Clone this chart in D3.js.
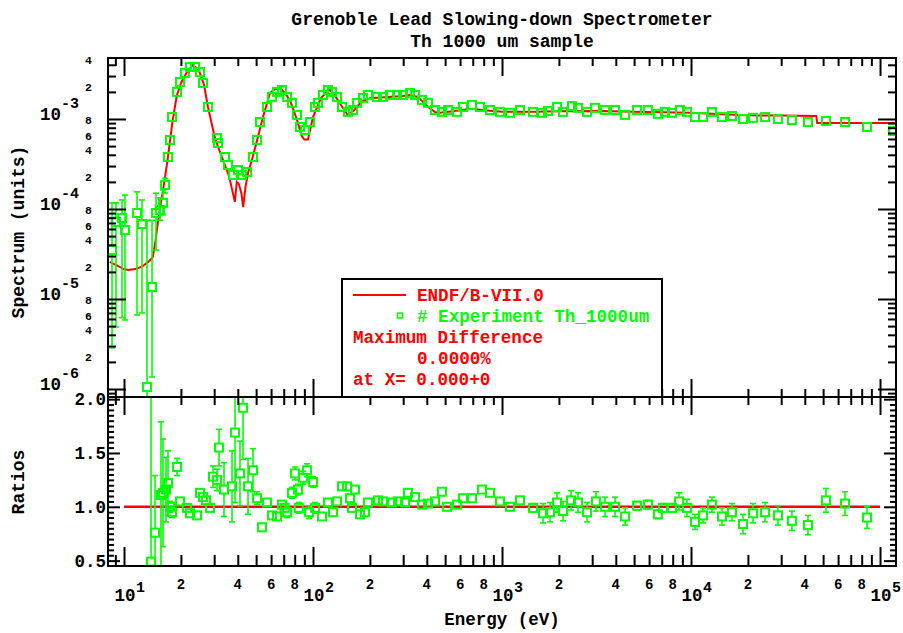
<!DOCTYPE html>
<html><head><meta charset="utf-8">
<script src="https://cdn.jsdelivr.net/npm/d3@7"></script>
<style>
body{margin:0;background:#fff}
svg{display:block}
text{font-family:"Liberation Mono","DejaVu Sans Mono",monospace;font-weight:bold;fill:#000}
</style>
</head><body>
<svg id="c" width="903" height="633"></svg>
<script>
// ---------- DATA ----------
const titleLines = ["Grenoble Lead Slowing-down Spectrometer", "Th 1000 um sample"];
const legendLines = ["ENDF/B-VII.0", "# Experiment Th_1000um", "Maximum Difference", "0.0000%", "at X= 0.000+0"];

// ENDF/B-VII.0 evaluated spectrum (energy eV, spectrum units)
const endfE = [8.4, 9.2, 10.0, 10.5, 11.5, 12.5, 13.5, 14.2, 14.7, 15.1, 15.6, 16.1, 17.0, 18.0, 19.0, 20.0, 21.5, 23.2, 25.0, 26.5,
  27.8, 30.3, 33.4, 36.0, 38.6, 39.5, 40.5, 41.8, 42.7, 44.0, 45.5, 47.5, 50.6, 54.4, 59.2, 63, 66.8, 71, 75.5, 82,
  87, 90, 94, 100, 110, 118, 123, 130, 140, 153, 165, 180, 200, 250, 300, 326, 360, 400, 440, 470,
  520, 600, 700, 800, 1000, 1500, 2000, 3300, 5000, 9900, 19300, 30000, 46000, 46500, 121500];
const endfS = [2.58e-5, 2.35e-5, 2.15e-5, 2.1e-5, 2.15e-5, 2.3e-5, 2.6e-5, 2.93e-5, 4.5e-5, 7e-5, 1.1e-4, 1.63e-4, 3.5e-4, 9e-4, 1.8e-3, 2.5e-3, 3.3e-3, 4.0e-3, 3.4e-3, 2.4e-3,
  1.36e-3, 6.1e-4, 3.5e-4, 2.3e-4, 1.2e-4, 2.0e-4, 1.9e-4, 1.5e-4, 1.05e-4, 1.8e-4, 2.6e-4, 3.5e-4, 5.8e-4, 1.05e-3, 1.95e-3, 2.15e-3, 2.2e-3, 1.95e-3, 1.62e-3, 1.0e-3,
  6.5e-4, 5.9e-4, 5.9e-4, 1.05e-3, 1.7e-3, 2.0e-3, 2.1e-3, 1.85e-3, 1.45e-3, 1.1e-3, 1.25e-3, 1.55e-3, 1.7e-3, 1.75e-3, 1.8e-3, 1.85e-3, 1.75e-3, 1.4e-3, 1.2e-3, 1.17e-3,
  1.2e-3, 1.25e-3, 1.3e-3, 1.25e-3, 1.2e-3, 1.2e-3, 1.22e-3, 1.23e-3, 1.2e-3, 1.17e-3, 1.1e-3, 1.09e-3, 1.08e-3, 9e-4, 9e-4];

// Experiment Th_1000um
const expE = [8.64, 9.07, 9.76, 10.12, 11.72, 12.45, 13.23, 14.07, 14.77, 15.5,
  16.08, 16.48, 17.09, 17.51, 17.95, 19.07, 19.79, 21.02, 22.35, 23.75,
  25.24, 26.18, 27.83, 31.05, 31.43, 34.22, 35.5, 37.73, 40.1, 42.1,
  44.75, 48.14, 50.55, 52.43, 57.1, 60.7, 64.5, 68.5, 72.9, 77.4,
  82.3, 85.3, 90.7, 96.4, 102.5, 106.3, 112.9, 120, 126, 134,
  142.4, 153.2, 162.8, 171, 183.9, 195.4, 218, 234.6, 255.6, 278.3,
  299.5, 326, 346.5, 377.4, 406, 442, 481, 518, 578, 622,
  694, 765, 864, 976, 1102, 1245, 1459, 1628, 1751, 1954,
  2103, 2346, 2524, 2817, 3105, 3509, 3963, 4477, 5176, 5916,
  6683, 7278, 7930, 8743, 9522, 10498, 11570, 12910, 14580, 16480,
  18840, 21280, 24640, 28840, 34200, 41580, 51760, 65280, 85350, 117200];
const expS = [3.5e-5, 7.2e-5, 7.94e-5, 5.85e-5, 9.03e-5, 6.8e-5, 1.05e-6, 1.36e-5, 9.03e-5, 9.75e-5,
  1.17e-4, 1.85e-4, 3.78e-4, 5.85e-4, 1.05e-3, 2.0e-3, 2.58e-3, 3.25e-3, 3.78e-3, 3.78e-3,
  3.33e-3, 2.51e-3, 1.36e-3, 6.15e-4, 5.41e-4, 3.78e-4, 3.08e-4, 2.39e-4, 2.71e-4, 2.39e-4,
  2.58e-4, 3.78e-4, 5.85e-4, 9.26e-4, 1.36e-3, 1.76e-3, 2.0e-3, 2.1e-3, 1.76e-3, 1.51e-3,
  1.11e-3, 8.15e-4, 7.55e-4, 9.26e-4, 1.36e-3, 1.51e-3, 1.85e-3, 2.1e-3, 2.0e-3, 1.76e-3,
  1.36e-3, 1.2e-3, 1.26e-3, 1.51e-3, 1.71e-3, 1.85e-3, 1.76e-3, 1.76e-3, 1.85e-3, 1.85e-3,
  1.85e-3, 1.95e-3, 1.85e-3, 1.63e-3, 1.51e-3, 1.26e-3, 1.2e-3, 1.26e-3, 1.2e-3, 1.36e-3,
  1.43e-3, 1.36e-3, 1.26e-3, 1.2e-3, 1.17e-3, 1.26e-3, 1.2e-3, 1.17e-3, 1.23e-3, 1.36e-3,
  1.2e-3, 1.39e-3, 1.33e-3, 1.2e-3, 1.33e-3, 1.26e-3, 1.26e-3, 1.11e-3, 1.26e-3, 1.26e-3,
  1.14e-3, 1.2e-3, 1.17e-3, 1.26e-3, 1.2e-3, 1.05e-3, 1.05e-3, 1.2e-3, 1.05e-3, 1.08e-3,
  1.0e-3, 1.03e-3, 1.05e-3, 1.0e-3, 9.75e-4, 9.26e-4, 9.5e-4, 9.26e-4, 8.15e-4, 7.36e-4];
// error-bar limits for the first (low-energy) experimental points
const expErrLo = [2.86e-6, 4.89e-6, 6.2e-6, 5.85e-6, 6.64e-6, 7.0e-6, 5e-7, 1.36e-6, 3.5e-5, 7.5e-5, 8.6e-5, 1.5e-4];
const expErrHi = [1.17e-4, 1.17e-4, 1.26e-4, 1.43e-4, 1.55e-4, 1.26e-4, 7.5e-5, 7.5e-5, 1.5e-4, 1.33e-4, 1.63e-4, 2.2e-4];

// Ratios experiment / ENDF
const ratE = [13.9, 14.59, 15.69, 16.08, 16.68, 17.09, 17.51, 17.95, 19.07, 19.79,
  21.54, 22.35, 24.33, 25.24, 26.18, 27.16, 28.51, 29.57, 31.05, 31.81,
  33.81, 37.28, 38.67, 41.08, 42.62, 45.3, 48.14, 50.55, 53.73, 57.1,
  60.7, 64.5, 68.5, 70.7, 72.9, 77.4, 80.3, 83.3, 84.1, 88.5,
  92.96, 95.2, 100, 102.5, 111.6, 120, 127.6, 134, 142.4, 151.4,
  157, 160.8, 166.8, 177.4, 188.4, 195.4, 220.8, 234.6, 261.8, 281.7,
  306.8, 318.1, 346.5, 377.4, 406, 442, 481, 511.7, 578, 622,
  694, 783.6, 864, 976, 1102, 1245, 1459, 1648, 1795, 1954,
  2103, 2317, 2524, 2817, 3141, 3509, 3963, 4477, 5176, 5916,
  6683, 7111, 7930, 8641, 9522, 10498, 11570, 12910, 14580, 16480,
  18840, 21280, 24640, 28840, 34200, 41580, 51760, 65280, 85350];
const ratR = [0.49, 0.76, 1.11, 1.13, 1.16, 1.22, 1.0, 0.95, 1.37, 1.05,
  0.99, 0.94, 0.92, 1.13, 1.09, 1.06, 0.99, 1.28, 1.25, 1.55,
  1.16, 1.19, 1.69, 1.31, 1.92, 1.19, 1.34, 1.08, 0.81, 1.04,
  0.92, 0.91, 1.02, 0.99, 0.95, 1.13, 1.31, 1.16, 0.99, 1.27,
  1.34, 0.95, 1.23, 0.99, 0.91, 1.04, 0.95, 1.05, 1.19, 1.19,
  1.08, 0.99, 1.16, 0.93, 0.95, 1.04, 1.06, 1.05, 1.04, 1.05,
  1.04, 1.13, 1.09, 1.02, 1.03, 1.05, 1.14, 1.0, 1.02, 1.08,
  1.08, 1.16, 1.13, 1.05, 1.0, 1.06, 0.99, 0.94, 0.95, 1.04,
  0.96, 1.06, 1.04, 0.95, 1.05, 1.0, 1.0, 0.91, 1.01, 1.02,
  0.93, 0.99, 0.99, 1.05, 0.99, 0.86, 0.92, 1.02, 0.91, 0.95,
  0.84, 0.94, 0.95, 0.92, 0.87, 0.83, 1.06, 1.03, 0.90];
const ratErr = [1.6, 0.53, 0.68, 0.5, 0.3, 0.3, 0.05, 0.05, 0.08, 0.03,
  0.03, 0.03, 0.03, 0.03, 0.03, 0.03, 0.03, 0.1, 0.1, 0.17,
  0.25, 0.33, 0.65, 0.3, 0.48, 0.26, 0.2, 0.06, 0.03, 0.03,
  0.03, 0.03, 0.03, 0.03, 0.05, 0.05, 0.06, 0.05, 0.05, 0.06,
  0.06, 0.06, 0.05, 0.05, 0.03, 0.03, 0.03, 0.03, 0.03, 0.03,
  0.03, 0.03, 0.03, 0.03, 0.03, 0.03, 0.03, 0.03, 0.03, 0.03,
  0.03, 0.03, 0.03, 0.03, 0.03, 0.03, 0.03, 0.03, 0.03, 0.03,
  0.03, 0.03, 0.03, 0.03, 0.03, 0.03, 0.04, 0.09, 0.09, 0.09,
  0.09, 0.09, 0.09, 0.09, 0.09, 0.09, 0.09, 0.08, 0.04, 0.04,
  0.04, 0.04, 0.04, 0.08, 0.08, 0.07, 0.07, 0.07, 0.08, 0.08,
  0.09, 0.09, 0.09, 0.09, 0.09, 0.09, 0.11, 0.11, 0.10];
const ratLineE = [10, 100000];
const ratLineR = [1.0, 1.0];

// tick labels
const xDecades = [10, 100, 1000, 10000, 100000];
const xDecadeExp = ["1", "2", "3", "4", "5"];
const minorDigits = [2, 4, 6, 8];
const ySDecades = [1e-6, 1e-5, 1e-4, 1e-3];
const ySDecadeExp = ["-6", "-5", "-4", "-3"];
const yRLabels = [0.5, 1.0, 1.5, 2.0];

// ---------- LAYOUT ----------
const L = 108, R = 896, T = 58, M = 397, B = 566;
const RED = "#ff0000", GREEN = "#00ff00";
const svg = d3.select("#c");

const x = d3.scaleLog().domain([8.228, 121500]).range([L, R]);
const yS = d3.scaleLog().domain([8.15e-7, 4.76e-3]).range([M, T]);
const yR = d3.scaleLinear().domain([0.45, 2.02]).range([B, M]);

// tick value sets
const xMinor = [], xMajor = xDecades.slice();
for (let d = 1; d <= 1e5; d *= 10) for (let m = 2; m <= 9; m++) { const v = m * d; if (v > x.domain()[0] && v < x.domain()[1]) xMinor.push(v); }
const ySMinor = [];
for (let d = 1e-7; d <= 1e-3; d *= 10) for (let m = 2; m <= 9; m++) { const v = m * d; if (v > yS.domain()[0] && v < yS.domain()[1]) ySMinor.push(v); }
const yRMinor = d3.range(0.5, 2.01, 0.05).map(v => +v.toFixed(2)).filter(v => Math.abs(v * 2 - Math.round(v * 2)) > 1e-6);

// clip paths
const defs = svg.append("defs");
defs.append("clipPath").attr("id", "cu").append("rect").attr("x", L).attr("y", T).attr("width", R - L).attr("height", M - T);
defs.append("clipPath").attr("id", "cl").append("rect").attr("x", L).attr("y", M).attr("width", R - L).attr("height", B - M);

// ---------- UPPER PANEL DATA ----------
const up = svg.append("g").attr("clip-path", "url(#cu)");
up.append("path").datum(endfE.map((e, i) => [e, endfS[i]]))
  .attr("fill", "none").attr("stroke", RED).attr("stroke-width", 2)
  .attr("d", d3.line().x(d => x(d[0])).y(d => yS(d[1])));

const hs = 4; // marker half size
function errBar(g, cx, cy, yTop, yBot) {
  if (yTop < cy - hs) {
    g.append("line").attr("x1", cx).attr("x2", cx).attr("y1", yTop).attr("y2", cy - hs);
    g.append("line").attr("x1", cx - 3).attr("x2", cx + 3).attr("y1", yTop).attr("y2", yTop);
  }
  if (yBot > cy + hs) {
    g.append("line").attr("x1", cx).attr("x2", cx).attr("y1", cy + hs).attr("y2", yBot);
    g.append("line").attr("x1", cx - 3).attr("x2", cx + 3).attr("y1", yBot).attr("y2", yBot);
  }
}
const upErr = up.append("g").attr("stroke", GREEN).attr("stroke-width", 1.6);
expE.forEach((e, i) => {
  if (expErrLo[i] == null) return;
  errBar(upErr, x(e), yS(expS[i]), yS(expErrHi[i]), yS(expErrLo[i]));
});
up.append("g").selectAll("rect").data(expE.map((e, i) => [e, expS[i]])).join("rect")
  .attr("x", d => x(d[0]) - hs).attr("y", d => yS(d[1]) - hs).attr("width", 2 * hs).attr("height", 2 * hs)
  .attr("fill", "none").attr("stroke", GREEN).attr("stroke-width", 2);

// ---------- LOWER PANEL DATA ----------
const lo = svg.append("g").attr("clip-path", "url(#cl)");
lo.append("path").datum(ratLineE.map((e, i) => [e, ratLineR[i]]))
  .attr("fill", "none").attr("stroke", RED).attr("stroke-width", 2.5)
  .attr("d", d3.line().x(d => x(d[0])).y(d => yR(d[1])));
const loErr = lo.append("g").attr("stroke", GREEN).attr("stroke-width", 1.6);
ratE.forEach((e, i) => {
  errBar(loErr, x(e), yR(ratR[i]), yR(ratR[i] + ratErr[i]), yR(ratR[i] - ratErr[i]));
});
lo.append("g").selectAll("rect").data(ratE.map((e, i) => [e, ratR[i]])).join("rect")
  .attr("x", d => x(d[0]) - hs).attr("y", d => yR(d[1]) - hs).attr("width", 2 * hs).attr("height", 2 * hs)
  .attr("fill", "none").attr("stroke", GREEN).attr("stroke-width", 2);

// ---------- AXES / TICKS ----------
function tickAxis(axis, tx, ty, vals, size) {
  const g = svg.append("g").attr("transform", `translate(${tx},${ty})`)
    .call(axis.tickValues(vals).tickSize(size).tickFormat(""));
  g.select(".domain").remove();
  g.selectAll(".tick line").attr("stroke", "#000").attr("stroke-width", 2);
}
// upper panel
tickAxis(d3.axisTop(x), 0, T, xMinor, -8);
tickAxis(d3.axisTop(x), 0, T, xMajor, -18);
tickAxis(d3.axisBottom(x), 0, M, xMinor, -8);
tickAxis(d3.axisBottom(x), 0, M, xMajor, -18);
tickAxis(d3.axisLeft(yS), L, 0, ySMinor, -8);
tickAxis(d3.axisLeft(yS), L, 0, ySDecades, -18);
tickAxis(d3.axisRight(yS), R, 0, ySMinor, -8);
tickAxis(d3.axisRight(yS), R, 0, ySDecades, -18);
// lower panel
tickAxis(d3.axisTop(x), 0, M, xMinor, -8);
tickAxis(d3.axisTop(x), 0, M, xMajor, -18);
tickAxis(d3.axisBottom(x), 0, B, xMinor, -11);
tickAxis(d3.axisBottom(x), 0, B, xMajor, -19);
tickAxis(d3.axisLeft(yR), L, 0, yRMinor, -6);
tickAxis(d3.axisLeft(yR), L, 0, yRLabels, -12);
tickAxis(d3.axisRight(yR), R, 0, yRMinor, -6);
tickAxis(d3.axisRight(yR), R, 0, yRLabels, -12);

// frames
svg.append("rect").attr("x", L).attr("y", T).attr("width", R - L).attr("height", M - T)
  .attr("fill", "none").attr("stroke", "#000").attr("stroke-width", 2);
svg.append("rect").attr("x", L).attr("y", M).attr("width", R - L).attr("height", B - M)
  .attr("fill", "none").attr("stroke", "#000").attr("stroke-width", 2);

// ---------- TICK LABELS ----------
// x decades
xDecades.forEach((v, i) => {
  svg.append("text").attr("x", x(v) + 1).attr("y", 601).attr("text-anchor", "middle")
    .style("font-size", "17.5px").text("10");
  svg.append("text").attr("x", x(v) + 12).attr("y", 592).attr("text-anchor", "start")
    .style("font-size", "15px").text(xDecadeExp[i]);
});
xDecades.slice(0, 4).forEach(d => minorDigits.forEach(m => {
  svg.append("text").attr("x", x(m * d)).attr("y", 589).attr("text-anchor", "middle")
    .style("font-size", "14px").text(m);
}));
// upper y
ySDecades.forEach((v, i) => {
  svg.append("text").attr("x", 61).attr("y", yS(v) + 1).attr("text-anchor", "end")
    .style("font-size", "17.5px").text("10");
  svg.append("text").attr("x", 61).attr("y", yS(v) - 11).attr("text-anchor", "start")
    .style("font-size", "15px").text(ySDecadeExp[i]);
});
const minorShift = {2: -4, 4: -4, 6: -2.5, 8: -7};
ySDecades.forEach(d => minorDigits.forEach(m => {
  const v = m * d;
  if (v < yS.domain()[1]) svg.append("text").attr("x", 92).attr("y", yS(v) + minorShift[m])
    .attr("dominant-baseline", "central").attr("text-anchor", "end")
    .style("font-size", "11.5px").text(m);
}));
// lower y
yRLabels.forEach(v => {
  svg.append("text").attr("x", 106).attr("y", yR(v)).attr("dy", "0.36em").attr("text-anchor", "end")
    .style("font-size", "17.5px").text(v.toFixed(1));
});

// ---------- TITLES ----------
svg.append("text").attr("x", 502).attr("y", 25).attr("text-anchor", "middle").style("font-size", "18px").text(titleLines[0]);
svg.append("text").attr("x", 502).attr("y", 47).attr("text-anchor", "middle").style("font-size", "18px").text(titleLines[1]);
svg.append("text").attr("x", 502).attr("y", 625).attr("text-anchor", "middle").style("font-size", "17.5px").text("Energy (eV)");
svg.append("text").attr("transform", "translate(24,232) rotate(-90)").attr("text-anchor", "middle").style("font-size", "18px").text("Spectrum (units)");
svg.append("text").attr("transform", "translate(24,482) rotate(-90)").attr("text-anchor", "middle").style("font-size", "18px").text("Ratios");

// ---------- LEGEND ----------
const lg = svg.append("g");
lg.append("rect").attr("x", 342).attr("y", 279).attr("width", 320).attr("height", M - 279)
  .attr("fill", "#fff").attr("stroke", "#000").attr("stroke-width", 2);
lg.append("line").attr("x1", 353).attr("x2", 406).attr("y1", 295).attr("y2", 295).attr("stroke", RED).attr("stroke-width", 2);
lg.append("rect").attr("x", 397.5).attr("y", 313).attr("width", 5).attr("height", 5).attr("fill", "none").attr("stroke", GREEN).attr("stroke-width", 1.5);
const lgX = [417, 417, 353, 417, 353], lgY = [301, 322, 343, 364, 385], lgC = [RED, GREEN, RED, RED, RED];
legendLines.forEach((t, i) => {
  lg.append("text").attr("x", lgX[i]).attr("y", lgY[i]).style("font-size", "17.6px").style("fill", lgC[i]).text(t);
});
</script>
</body></html>
